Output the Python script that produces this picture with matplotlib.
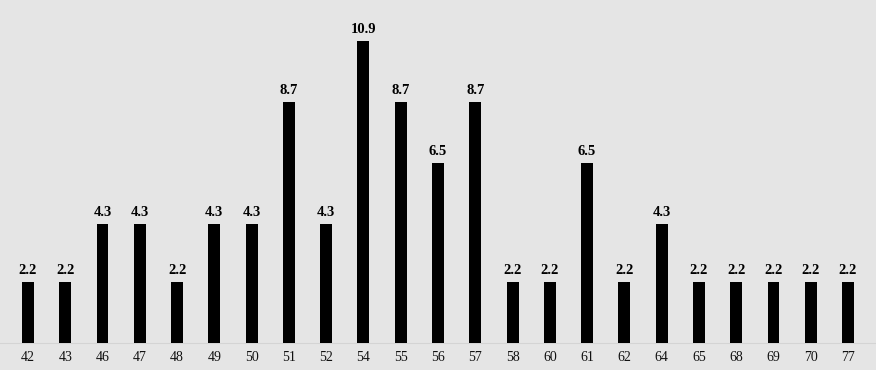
import matplotlib
matplotlib.use("Agg")
import matplotlib.pyplot as plt
import numpy as np

categories = ["42", "43", "46", "47", "48", "49", "50", "51", "52", "54", "55", "56",
              "57", "58", "60", "61", "62", "64", "65", "68", "69", "70", "77"]
values = [2.2, 2.2, 4.3, 4.3, 2.2, 4.3, 4.3, 8.7, 4.3, 10.9, 8.7, 6.5,
          8.7, 2.2, 2.2, 6.5, 2.2, 4.3, 2.2, 2.2, 2.2, 2.2, 2.2]

BG = "#e5e5e5"
plt.rcParams.update({"font.family": ["Liberation Serif", "DejaVu Serif"]})

fig = plt.figure(figsize=(8.76, 3.70), dpi=100, facecolor=BG)
ax = fig.add_axes([0, 27 / 370, 1, 343 / 370], facecolor=BG)

x = np.arange(len(categories))
ax.bar(x, values, width=0.32, color="black", zorder=3)
for xi, v in zip(x, values):
    ax.text(xi, v + 0.2, f"{v:.1f}", ha="center", va="bottom",
            fontsize=10.5, fontweight="bold", color="black")

ax.set_xlim(-0.75, len(categories) - 0.25)
ax.set_ylim(0, 12.4)
ax.set_xticks(x)
ax.set_xticklabels(categories, fontsize=10, color="#111111")
ax.tick_params(axis="x", length=0, pad=6)
ax.set_yticks([])
for s in ["top", "right", "left"]:
    ax.spines[s].set_visible(False)
ax.spines["bottom"].set_color("#d4d4d4")
ax.spines["bottom"].set_linewidth(0.8)

fig.savefig("out.png", dpi=100, facecolor=BG)
